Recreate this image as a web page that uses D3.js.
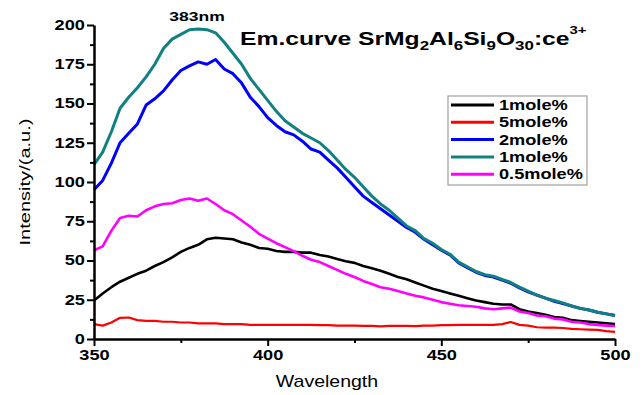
<!DOCTYPE html>
<html>
<head>
<meta charset="utf-8">
<script src="https://cdn.jsdelivr.net/npm/d3@7"></script>
<style>
  body { margin: 0; background: #fff; }
  svg { display: block; }
  text { font-family: Arial, "Liberation Sans", sans-serif; }
</style>
</head>
<body>
<svg id="chart" width="644" height="395"></svg>
<script>
// wavelength grid (nm) the curves were read at
var wavelength = d3.range(350, 500.01, 2.5);

var black1 = [24.5, 29, 33, 36.5, 39, 41.5, 43.5, 46.5, 49, 52, 55.5, 58, 60, 63.5, 64.5, 64, 63.5, 61.5, 60, 58,
  57.5, 56, 55.5, 55.5, 55, 55, 53.5, 52.5, 51, 49.5, 48.5, 46.5, 45, 43.5, 41.5, 39.5, 38, 36, 34, 32,
  30.5, 29, 27.5, 26, 24.5, 23.5, 22.5, 22, 22, 19, 17.5, 16.5, 15.5, 14, 13.5, 12, 11.5, 11, 10.5, 10, 9.5];
var red5 = [9.5, 8.5, 10.5, 13.5, 13.7, 12, 11.5, 11.5, 11, 11, 10.5, 10.5, 10, 10, 10, 9.5, 9.5, 9.5, 9, 9,
  9, 9, 9, 9, 9, 9, 8.8, 8.8, 8.5, 8.5, 8.5, 8.3, 8.3, 8, 8.3, 8.3, 8.3, 8.2, 8.5, 8.5,
  8.8, 8.8, 9, 9, 9, 9, 9, 9.5, 10.8, 9, 8.5, 7.5, 7.3, 7.3, 7, 6.5, 6.2, 6, 5.8, 5, 4.5];
var blue2 = [95, 101, 112, 125, 131, 137, 149, 153, 158, 165, 171, 174, 176.5, 175, 178, 172, 169, 163, 154, 148,
  141, 136, 132, 130, 126, 121, 119, 114, 109, 103, 97, 91, 87, 83, 79, 75, 71, 68, 63.5, 60,
  56.5, 53.5, 48.5, 45.5, 42.5, 40.5, 39.5, 37.5, 35.5, 32.5, 30, 28, 26, 24, 22.5, 21, 19.5, 18.5, 17, 16, 15];
var teal1 = [111, 119, 132, 147, 154, 160, 167, 175, 185, 191, 194, 197, 197.5, 197, 195, 189, 182, 175, 166, 159,
  152, 145, 139, 135, 131, 128, 125, 120, 114, 108, 103, 97, 91, 86, 82, 77, 72, 69, 64, 61,
  57, 54, 49, 46, 43, 41, 40, 38, 36, 33, 30.5, 28, 26, 24.5, 23, 21, 19.5, 18.5, 17, 16, 15];
var magenta05 = [56.5, 59, 69, 77, 78.5, 78, 82, 84.5, 86, 86.5, 88.5, 89.5, 88, 89.5, 86, 82, 79.5, 75.5, 71.5, 67,
  64, 61, 58.5, 56, 53, 50.5, 49, 46.5, 44, 41.5, 39.5, 37, 35, 33, 32, 30.5, 29, 27.5, 26.5, 25,
  23.5, 22.5, 21.5, 21, 20.5, 19.5, 19, 19.5, 20, 17.5, 16.5, 15, 14.5, 13, 12.5, 11, 10.5, 9.5, 9, 8.5, 8.3];

var seriesNames = ['1mole%', '5mole%', '2mole%', '1mole%', '0.5mole%'];
var seriesValues = [black1, red5, blue2, teal1, magenta05];
var seriesColors = ['#000000', '#ff0000', '#0000ff', '#128080', '#ff00ff'];
var seriesWidths = [2.6, 2.2, 3, 3, 2.6];

var xMajorTicks = [350, 400, 450, 500];
var xMinorTicks = [375, 425, 475];
var yMajorTicks = [0, 25, 50, 75, 100, 125, 150, 175, 200];
var yMinorTicks = [12.5, 37.5, 62.5, 87.5, 112.5, 137.5, 162.5, 187.5];

var svg = d3.select('#chart');

var x = d3.scaleLinear().domain([350, 500]).range([94, 615]);
var y = d3.scaleLinear().domain([0, 200]).range([339, 25]);

// the source figure has horizontally stretched lettering
function widen(sel, k) {
  sel.each(function() {
    var b = this.getBBox();
    var anchor = d3.select(this).attr('text-anchor') || 'start';
    var cx = anchor === 'end' ? b.x + b.width : anchor === 'middle' ? b.x + b.width / 2 : b.x;
    d3.select(this).attr('transform', 'translate(' + cx + ',0) scale(' + k + ',1) translate(' + (-cx) + ',0)');
  });
}

// curves
var line = d3.line()
  .x(function(d) { return x(d[0]); })
  .y(function(d) { return y(d[1]); });

svg.append('g').attr('class', 'curves')
  .selectAll('path')
  .data(seriesValues)
  .enter().append('path')
    .attr('d', function(vals) { return line(wavelength.map(function(w, i) { return [w, vals[i]]; })); })
    .attr('fill', 'none')
    .attr('stroke', function(d, i) { return seriesColors[i]; })
    .attr('stroke-width', function(d, i) { return seriesWidths[i]; })
    .attr('stroke-linejoin', 'round');

// axes
function styleAxis(g) {
  g.select('.domain').attr('stroke', '#000').attr('stroke-width', 2.5);
  g.selectAll('.tick line').attr('stroke', '#000').attr('stroke-width', 2);
  g.selectAll('.tick text').attr('fill', '#000').attr('font-size', 14).attr('font-weight', 'bold');
}

var xAxisG = svg.append('g')
  .attr('transform', 'translate(0,' + y(0) + ')')
  .call(d3.axisBottom(x).tickValues(xMajorTicks).tickSize(7).tickSizeOuter(0).tickPadding(4).tickFormat(d3.format('d')))
  .call(styleAxis);
svg.append('g')
  .attr('transform', 'translate(0,' + y(0) + ')')
  .call(d3.axisBottom(x).tickValues(xMinorTicks).tickSize(4).tickFormat(''))
  .call(styleAxis)
  .select('.domain').remove();

var yAxisG = svg.append('g')
  .attr('transform', 'translate(' + x(350) + ',0)')
  .call(d3.axisLeft(y).tickValues(yMajorTicks).tickSize(7).tickSizeOuter(0).tickPadding(2).tickFormat(d3.format('d')))
  .call(styleAxis);
svg.append('g')
  .attr('transform', 'translate(' + x(350) + ',0)')
  .call(d3.axisLeft(y).tickValues(yMinorTicks).tickSize(4).tickFormat(''))
  .call(styleAxis)
  .select('.domain').remove();

widen(xAxisG.selectAll('.tick text').attr('text-anchor', 'middle'), 1.3);
widen(yAxisG.selectAll('.tick text').attr('text-anchor', 'end'), 1.3);

// axis titles
widen(svg.append('text')
  .attr('x', 327).attr('y', 387)
  .attr('text-anchor', 'middle')
  .attr('font-size', 16)
  .text('Wavelength'), 1.22);

svg.append('text')
  .attr('transform', 'translate(30,182) rotate(-90)')
  .attr('text-anchor', 'middle')
  .attr('font-size', 15)
  .attr('textLength', 127)
  .attr('lengthAdjust', 'spacingAndGlyphs')
  .text('Intensity/(a.u.)');

// peak label
widen(svg.append('text')
  .attr('x', 197).attr('y', 21)
  .attr('text-anchor', 'middle')
  .attr('font-size', 13.5)
  .attr('font-weight', 'bold')
  .text('383nm'), 1.3);

// title with sub/superscripts: 0 = normal, 1 = subscript, -1 = superscript
var titleParts = [['Em.curve SrMg', 0], ['2', 1], ['Al', 0], ['6', 1], ['Si', 0], ['9', 1], ['O', 0], ['30', 1], [':ce', 0], ['3+', -1]];
var shiftOf = function(kind) { return kind === 1 ? 5 : kind === -1 ? -11 : 0; };
var title = svg.append('text')
  .attr('x', 240).attr('y', 45)
  .attr('font-size', 19)
  .attr('font-weight', 'bold');
titleParts.forEach(function(p, i) {
  var prev = i > 0 ? titleParts[i - 1][1] : 0;
  title.append('tspan')
    .attr('font-size', p[1] === 0 ? 19 : p[1] === 1 ? 13 : 11.5)
    .attr('dy', shiftOf(p[1]) - shiftOf(prev))
    .text(p[0]);
});
widen(title, 1.3);

// legend
var legend = svg.append('g').attr('class', 'legend');
legend.append('rect')
  .attr('x', 448).attr('y', 96).attr('width', 139).attr('height', 89)
  .attr('fill', '#fff').attr('stroke', '#a0a0a0').attr('stroke-width', 1.2);
var rows = legend.selectAll('g.row')
  .data(seriesNames)
  .enter().append('g')
    .attr('class', 'row')
    .attr('transform', function(d, i) { return 'translate(0,' + (105 + i * 17.3) + ')'; });
rows.append('line')
  .attr('x1', 451).attr('x2', 494)
  .attr('stroke', function(d, i) { return seriesColors[i]; })
  .attr('stroke-width', 3);
var legendText = rows.append('text')
  .attr('x', 499).attr('dy', '0.36em')
  .attr('font-size', 14)
  .attr('font-weight', 'bold')
  .text(function(d) { return d; });
widen(legendText, 1.3);
</script>
</body>
</html>
